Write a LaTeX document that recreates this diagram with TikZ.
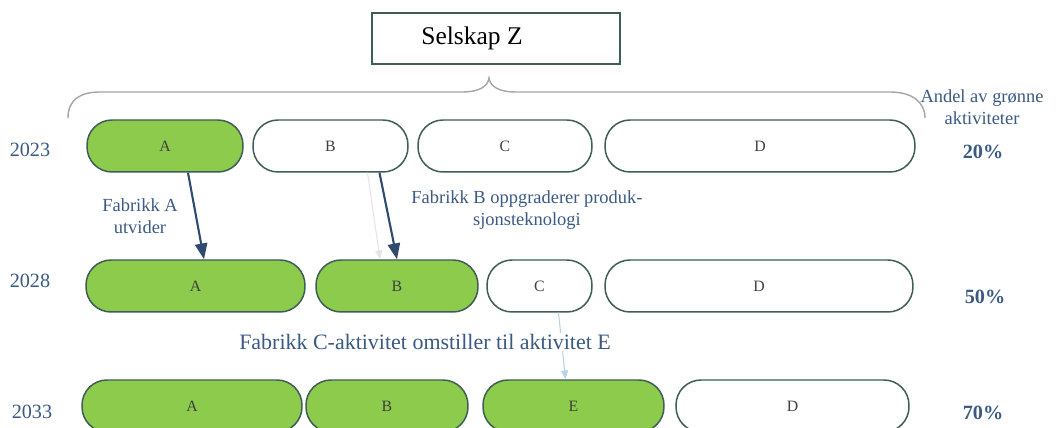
\documentclass[tikz,border=0pt]{standalone}
\usepackage{fontspec}
\setmainfont{Liberation Serif}
\usepackage{tikz}
\usetikzlibrary{
  arrows.meta,
  positioning,
  calc
}
\definecolor{szgreen}  {HTML}{8DCB4C}
\definecolor{szedge}   {HTML}{3E5C58}
\definecolor{szblue}   {HTML}{3A5A84}
\definecolor{szarrow}  {HTML}{2F4C70}
\definecolor{szgray}   {HTML}{A5A5A5}
\definecolor{szfaint}  {HTML}{B9D3E6}

\begin{document}
\begin{tikzpicture}[
  x=0.02cm, y=-0.02cm,
  every node/.style={font=\small},
  box/.style={
    rectangle, rounded corners=0.5cm, minimum height=1.04cm,
    text centered, draw=szedge, line width=0.85pt, fill=white,
    font=\fontsize{9}{10}\selectfont, text=black!75
  },
  grn/.style={box, fill=szgreen},
  arr/.style={-{Triangle[width=7pt,length=9pt]}, line width=1.2pt, draw=szarrow},
  ghost/.style={-{Triangle[width=4pt,length=5pt]}, line width=0.6pt, draw=szfaint},
  note/.style={font=\fontsize{10.5}{12.5}\selectfont, color=szblue, align=center},
  year/.style={font=\fontsize{11.5}{13}\selectfont, color=szblue},
  share/.style={font=\fontsize{11.5}{13}\selectfont\bfseries, color=szblue},
]
\useasboundingbox (0,0) rectangle (1063,428);

% company box and brace
\node[draw=szedge, line width=0.9pt, minimum width=4.96cm, minimum height=1.02cm]
  (firm) at (496,38.5) {};
\node[font=\fontsize{14.5}{16}\selectfont] (firmname) at (472,38) {Selskap Z};
\draw[szgray, line width=0.8pt]
  (68,118) .. controls (68,100) and (80,92) .. (100,92) -- (462,92)
  .. controls (480,92) and (488,86) .. (489,78)
  .. controls (490,86) and (498,92) .. (516,92) -- (890,92)
  .. controls (912,92) and (925,102) .. (925,118);

% 2023
\node[year] (y23) at (30,150) {2023};
\node[grn, minimum width=3.12cm] (a23) at (165,146)   {A};
\node[box, minimum width=3.10cm] (b23) at (330.5,146) {B};
\node[box, minimum width=3.48cm] (c23) at (505,146)   {C};
\node[box, minimum width=6.20cm] (d23) at (760,146)   {D};
\node[note] (share) at (982,107) {Andel av grønne\\aktiviteter};
\node[share] (p23) at (983,152) {20\%};

% 2028
\node[year] (y28) at (30,281) {2028};
\node[grn, minimum width=4.38cm] (a28) at (195.5,286) {A};
\node[grn, minimum width=3.24cm] (b28) at (397,286)   {B};
\node[box, minimum width=2.10cm] (c28) at (539.5,286) {C};
\node[box, minimum width=6.16cm] (d28) at (759,286)   {D};
\node[share] (p28) at (985,297) {50\%};

% 2033
\node[year] (y33) at (32,412) {2033};
\node[grn, minimum width=4.40cm] (a33) at (192,406)   {A};
\node[grn, minimum width=3.24cm] (b33) at (387,406)   {B};
\node[grn, minimum width=3.62cm] (e33) at (573.5,406) {E};
\node[box, minimum width=4.66cm] (d33) at (792.5,406) {D};
\node[share] (p33) at (983,413) {70\%};

% changes between the years
\draw[ghost, draw=black!10] ($(b23.south)+(37,0)$) -- ($(b28.north)+(-17,0)$);
\draw[ghost] ($(c28.south)+(19,0)$) -- ($(e33.north)+(-8,0)$);
\draw[arr] ($(a23.south)+(23,0)$) -- ($(a28.north)+(8.5,0)$);
\draw[arr] ($(b23.south)+(49,0)$) -- (b28.north);

\node[note] (growA) at (140,216) {Fabrikk A\\utvider};
\node[note] (upgradeB) at (527,210) {Fabrikk B oppgraderer produk-\\sjonsteknologi};
\node[note, font=\fontsize{12.5}{15}\selectfont, fill=white, inner sep=1pt]
  (switchC) at (425,342) {Fabrikk C-aktivitet omstiller til aktivitet E};
\end{tikzpicture}
\end{document}
